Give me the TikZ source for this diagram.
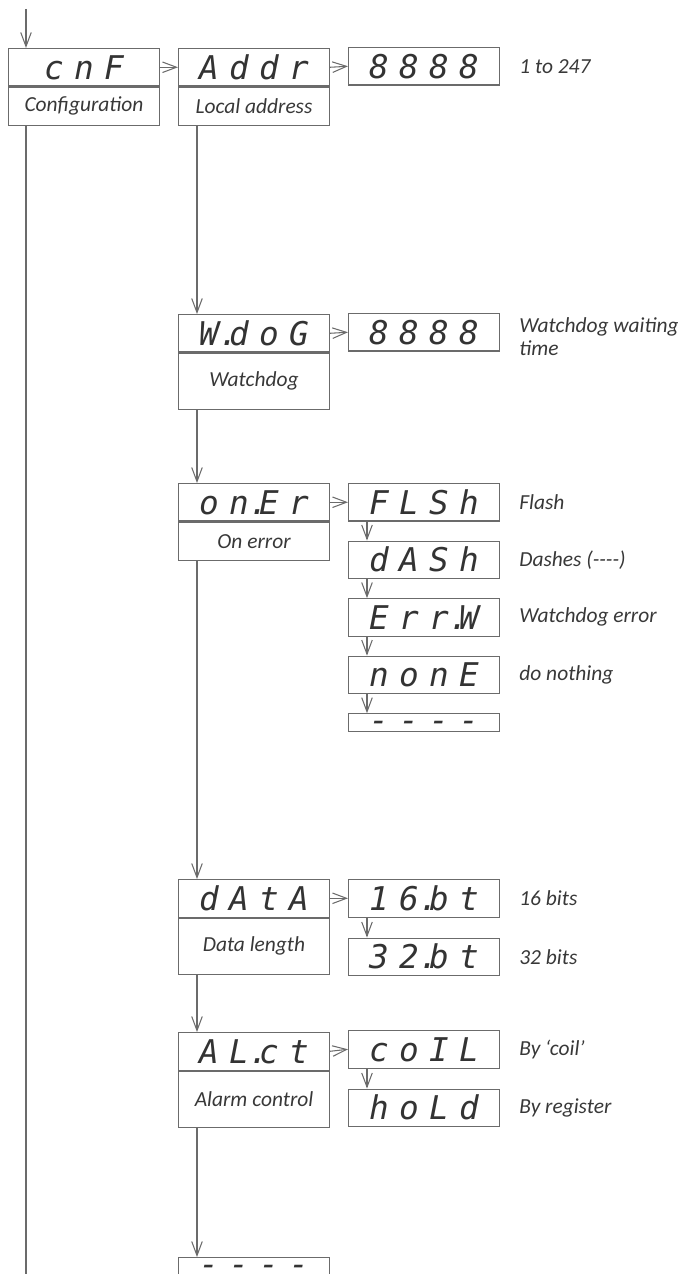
\documentclass[tikz,border=0pt]{standalone}
\usepackage{fontspec}
\setmainfont{Carlito}
\newfontfamily\segfont{DejaVu Sans Mono}
\usepackage{tikz}
\usetikzlibrary{arrows.meta,positioning}

\definecolor{linegray}{gray}{0.42}
\definecolor{glyphgray}{gray}{0.2}
\definecolor{labelgray}{gray}{0.22}

% one digit cell of the display
\newcommand{\dg}[1]{\makebox[0.6cm]{#1}}
% a row of dashes, lowered onto the baseline
\newcommand{\dashrow}{\raisebox{-5pt}{\dg{-}\dg{-}\dg{-}\dg{-}}}

\begin{document}
\begin{tikzpicture}[
    x=0.02cm, y=-0.02cm,
    >={Straight Barb[length=8pt,width=6pt]},
    flow/.style={draw=linegray, line width=0.6pt},
    disp/.style={flow, rectangle, minimum width=3.02cm, minimum height=0.75cm, inner sep=0pt, anchor=north west, text height=13.6pt, text depth=0pt, font=\segfont\itshape\fontsize{18.6}{18.6}\selectfont, text=glyphgray},
    blank/.style={disp, minimum height=0.36cm, text height=1pt, text depth=1pt},
    desc/.style={flow, rectangle, minimum width=3.02cm, minimum height=0.77cm, inner sep=0pt, anchor=north, font=\itshape\fontsize{12.2}{14}\selectfont, text=labelgray},
    tall/.style={minimum height=1.12cm},
    note/.style={anchor=west, inner sep=0pt, align=left, font=\itshape\fontsize{12.2}{13}\selectfont, text=labelgray}
]
\useasboundingbox (0,0) rectangle (678,1274);

% main menu column
\node[disp] (cnf) at (8,48) {\dg{c}\dg{n}\dg{F}};
\node[desc] (cnf-d) at (cnf.south) {Configuration};
\node[disp] (addr) at (178,48) {\dg{A}\dg{d}\dg{d}\dg{r}};
\node[desc] (addr-d) at (addr.south) {Local address};
\node[disp] (wdog) at (178,314) {\dg{W\rlap{.}}\dg{d}\dg{o}\dg{G}};
\node[desc, tall] (wdog-d) at (wdog.south) {Watchdog};
\node[disp] (oner) at (178,483) {\dg{o}\dg{n\rlap{.}}\dg{E}\dg{r}};
\node[desc] (oner-d) at (oner.south) {On error};
\node[disp] (data) at (178,879) {\dg{d}\dg{A}\dg{t}\dg{A}};
\node[desc, tall] (data-d) at (data.south) {Data length};
\node[disp] (alct) at (178,1032) {\dg{A}\dg{L\rlap{.}}\dg{c}\dg{t}};
\node[desc, tall] (alct-d) at (alct.south) {Alarm control};
\node[blank] (next) at (178,1257) {\dashrow};

% values
\node[disp] (addr-v) at (348,47) {\dg{8}\dg{8}\dg{8}\dg{8}};
\node[disp] (wdog-v) at (348,313) {\dg{8}\dg{8}\dg{8}\dg{8}};
\node[disp] (flsh) at (348,483) {\dg{F}\dg{L}\dg{S}\dg{h}};
\node[disp, below=0.38cm of flsh] (dsh) {\dg{d}\dg{A}\dg{S}\dg{h}};
\node[disp, below=0.38cm of dsh] (errw) {\dg{E}\dg{r}\dg{r\rlap{.}}\dg{W}};
\node[disp, below=0.38cm of errw] (none) {\dg{n}\dg{o}\dg{n}\dg{E}};
\node[blank, below=0.38cm of none] (blk) {\dashrow};
\node[disp] (bt16) at (348,879) {\dg{1}\dg{6\rlap{.}}\dg{b}\dg{t}};
\node[disp, below=0.4cm of bt16] (bt32) {\dg{3}\dg{2\rlap{.}}\dg{b}\dg{t}};
\node[disp] (coil) at (348,1030) {\dg{c}\dg{o}\dg{I}\dg{L}};
\node[disp, below=0.4cm of coil] (hold) {\dg{h}\dg{o}\dg{L}\dg{d}};

% notes
\node[note, right=0.38cm of addr-v] (addr-n) {1 to 247};
\node[note, right=0.38cm of wdog-v, yshift=-0.08cm] (wdog-n) {Watchdog waiting\\time};
\node[note, right=0.38cm of flsh] (flsh-n) {Flash};
\node[note, right=0.38cm of dsh] (dsh-n) {Dashes ({-}{-}{-}{-})};
\node[note, right=0.38cm of errw] (errw-n) {Watchdog error};
\node[note, right=0.38cm of none] (none-n) {do nothing};
\node[note, right=0.38cm of bt16] (bt16-n) {16 bits};
\node[note, right=0.38cm of bt32] (bt32-n) {32 bits};
\node[note, right=0.38cm of coil] (coil-n) {By `coil'};
\node[note, right=0.38cm of hold] (hold-n) {By register};

% connectors
\coordinate (in) at (26,9);
\coordinate (out) at (26,1280);
\draw[flow,->] (in) -- (in |- cnf.north);
\draw[flow] (in |- cnf-d.south) -- (out);
\draw[flow,->] (cnf.east) -- (addr.west);
\draw[flow,->] (addr.east) -- (addr-v.west);
\draw[flow,->] (wdog.east) -- (wdog-v.west);
\draw[flow,->] (oner.east) -- (flsh.west);
\draw[flow,->] (data.east) -- (bt16.west);
\draw[flow,->] (alct.east) -- (coil.west);
\foreach \a/\b in {addr-d/wdog, wdog-d/oner, oner-d/data, data-d/alct, alct-d/next,
                   flsh/dsh, dsh/errw, errw/none, none/blk, bt16/bt32, coil/hold}
  \draw[flow,->] ([xshift=0.38cm]\a.south west) -- ([xshift=0.38cm]\b.north west);
\end{tikzpicture}
\end{document}
